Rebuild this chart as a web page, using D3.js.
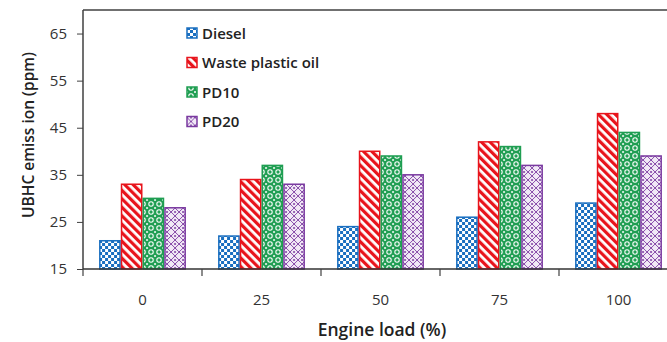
<!DOCTYPE html>
<html>
<head>
<meta charset="utf-8">
<script src="https://cdn.jsdelivr.net/npm/d3@7/dist/d3.min.js"></script>
<style>
  html, body { margin: 0; padding: 0; background: #fff; }
  svg { display: block; font-family: "Open Sans", Lato, sans-serif; }
</style>
</head>
<body>
<svg id="chart" width="667" height="342"></svg>
<script>
// Engine load categories (%)
const loads = ["0", "25", "50", "75", "100"];
// Fuel series
const fuels = ["Diesel", "Waste plastic oil", "PD10", "PD20"];
// UBHC emission (ppm) per fuel, one value per load
const diesel = [21, 22, 24, 26, 29];
const wastePlasticOil = [33, 34, 40, 42, 48];
const pd10 = [30, 37, 39, 41, 44];
const pd20 = [28, 33, 35, 37, 39];
const yTicks = [15, 25, 35, 45, 55, 65];

const seriesValues = [diesel, wastePlasticOil, pd10, pd20];
const colors = ["#1a6fc0", "#e8141c", "#1f9e52", "#7a3aa0"];

const svg = d3.select("#chart");
const plotLeft = 83, plotTop = 10, plotBottom = 269, plotRight = 678;

const x0 = d3.scaleBand().domain(loads).range([plotLeft, plotRight])
  .paddingInner(0.27).paddingOuter(0.135);
const x1 = d3.scaleBand().domain(fuels).range([0, x0.bandwidth()]);
const y = d3.scaleLinear().domain([15, 70]).range([plotBottom, plotTop]);

// Fill patterns for each series
const defs = svg.append("defs");
// checkerboard
const p0 = defs.append("pattern").attr("id", "pat0").attr("patternUnits", "userSpaceOnUse")
  .attr("width", 6).attr("height", 6);
p0.append("rect").attr("width", 6).attr("height", 6).attr("fill", "#fff");
p0.append("rect").attr("width", 3).attr("height", 3).attr("fill", colors[0]);
p0.append("rect").attr("x", 3).attr("y", 3).attr("width", 3).attr("height", 3).attr("fill", colors[0]);
// diagonal stripes
const p1 = defs.append("pattern").attr("id", "pat1").attr("patternUnits", "userSpaceOnUse")
  .attr("width", 6).attr("height", 6).attr("patternTransform", "rotate(-45)");
p1.append("rect").attr("width", 6).attr("height", 6).attr("fill", "#fff");
p1.append("rect").attr("width", 3.2).attr("height", 6).attr("fill", colors[1]);
// rings
const p2 = defs.append("pattern").attr("id", "pat2").attr("patternUnits", "userSpaceOnUse")
  .attr("width", 8).attr("height", 8);
p2.append("rect").attr("width", 8).attr("height", 8).attr("fill", colors[2]);
p2.append("circle").attr("cx", 4).attr("cy", 4).attr("r", 2.2).attr("fill", "none")
  .attr("stroke", "#fff").attr("stroke-width", 1.1);
[[0, 0], [8, 0], [0, 8], [8, 8]].forEach(([cx, cy]) =>
  p2.append("circle").attr("cx", cx).attr("cy", cy).attr("r", 1).attr("fill", "#fff"));
// diamond lattice
const p3 = defs.append("pattern").attr("id", "pat3").attr("patternUnits", "userSpaceOnUse")
  .attr("width", 8).attr("height", 8);
p3.append("rect").attr("width", 8).attr("height", 8).attr("fill", "#f1e9f6");
p3.append("path").attr("d", "M4,0 L8,4 L4,8 L0,4 Z").attr("fill", "none")
  .attr("stroke", colors[3]).attr("stroke-width", 0.9);
p3.append("circle").attr("cx", 4).attr("cy", 4).attr("r", 1).attr("fill", colors[3]);

// Top border of the plot area
svg.append("line").attr("x1", plotLeft).attr("x2", 667).attr("y1", plotTop).attr("y2", plotTop)
  .attr("stroke", "#404040").attr("stroke-width", 1.5);

// Bars
const groups = svg.append("g").selectAll("g").data(loads).join("g")
  .attr("transform", d => `translate(${x0(d)},0)`);
groups.selectAll("rect")
  .data((d, i) => fuels.map((f, s) => ({ fuel: f, s, v: seriesValues[s][i] })))
  .join("rect")
  .attr("x", d => x1(d.fuel) + 0.75)
  .attr("y", d => y(d.v))
  .attr("width", x1.bandwidth() - 1.5)
  .attr("height", d => plotBottom - y(d.v))
  .attr("fill", d => `url(#pat${d.s})`)
  .attr("stroke", d => colors[d.s])
  .attr("stroke-width", 1.5);

// Y axis
const yAxis = svg.append("g").attr("transform", `translate(${plotLeft},0)`)
  .call(d3.axisLeft(y).tickValues(yTicks).tickSize(6).tickPadding(10));
yAxis.select(".domain").attr("d", `M0,${plotBottom}V${plotTop}`).attr("stroke", "#404040").attr("stroke-width", 1.5);
yAxis.selectAll(".tick line").attr("stroke", "#404040");
yAxis.selectAll("text").attr("font-size", 15).attr("font-family", "Open Sans").attr("fill", "#333");

// X axis with ticks at group boundaries
const xg = svg.append("g");
xg.append("line").attr("x1", plotLeft).attr("x2", 667).attr("y1", plotBottom).attr("y2", plotBottom)
  .attr("stroke", "#333").attr("stroke-width", 1.5);
const step = x0.step();
xg.selectAll(".bt").data(loads).join("line").attr("class", "bt")
  .attr("x1", d => x0(d) - x0.paddingOuter() * step)
  .attr("x2", d => x0(d) - x0.paddingOuter() * step)
  .attr("y1", plotBottom).attr("y2", plotBottom + 7)
  .attr("stroke", "#404040").attr("stroke-width", 1.2);
xg.selectAll(".lbl").data(loads).join("text").attr("class", "lbl")
  .attr("x", d => x0(d) + x0.bandwidth() / 2).attr("y", 305)
  .attr("text-anchor", "middle").attr("font-size", 15).attr("fill", "#333").text(d => d);

// Axis titles
svg.append("text").attr("x", 382).attr("y", 336).attr("text-anchor", "middle")
  .attr("font-size", 17.5).attr("font-weight", 600).attr("fill", "#222").text("Engine load (%)");
svg.append("text").attr("transform", "translate(34,135) rotate(-90)").attr("text-anchor", "middle")
  .attr("font-size", 15.5).attr("font-weight", 600).attr("fill", "#222").text("UBHC emiss ion (ppm)");

// Legend
const legend = svg.append("g").selectAll("g").data(fuels).join("g")
  .attr("transform", (d, i) => `translate(187,${33 + i * 29.5})`);
legend.append("rect").attr("x", 0).attr("y", -5).attr("width", 10).attr("height", 10)
  .attr("fill", (d, i) => `url(#pat${i})`).attr("stroke", (d, i) => colors[i]).attr("stroke-width", 1.5);
legend.append("text").attr("x", 15).attr("y", 5.5).attr("font-size", 15).attr("font-weight", 600)
  .attr("fill", "#222").text(d => d);
</script>
</body>
</html>
